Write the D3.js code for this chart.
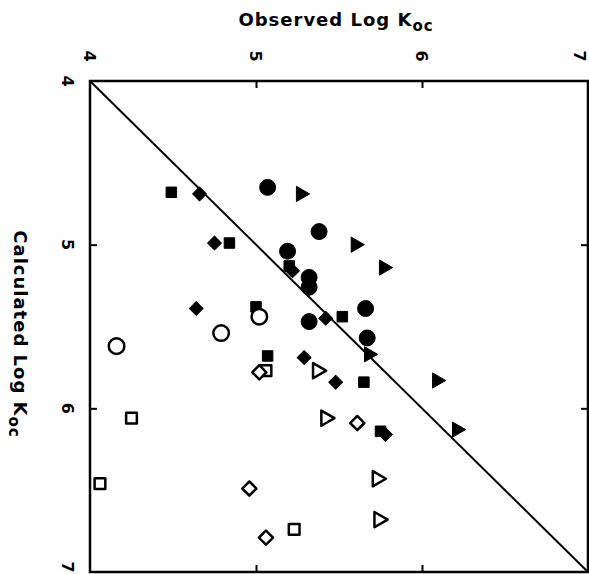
<!DOCTYPE html>
<html>
<head>
<meta charset="utf-8">
<script src="https://cdn.jsdelivr.net/npm/d3@7"></script>
<style>
    body { margin: 0; background: #fff; }
    svg text { font-family: 'DejaVu Sans', 'Liberation Sans', Arial, sans-serif; font-weight: bold; fill: #000; }
</style>
</head>
<body>
<main id="root"><section id="content"></section></main>
<script>
"use strict";

// [observed, calculated]
var filled_circles = [ [5.07,4.65], [5.38,4.92], [5.19,5.04], [5.32,5.20], [5.32,5.26], [5.32,5.47], [5.66,5.39], [5.67,5.57] ];
var filled_triangles = [ [5.27,4.69], [5.60,5.00], [5.77,5.14], [6.09,5.83], [6.21,6.13], [5.68,5.67] ];
var filled_squares = [ [4.49,4.68], [4.84,4.99], [5.20,5.13], [5.00,5.38], [5.52,5.44], [5.07,5.68], [5.65,5.84], [5.75,6.14] ];
var filled_diamonds = [ [4.66,4.69], [4.75,4.99], [4.64,5.39], [5.22,5.16], [5.42,5.45], [5.29,5.69], [5.48,5.84], [5.78,6.16] ];
var open_circles = [ [4.16,5.62], [4.79,5.54], [5.02,5.44] ];
var open_squares = [ [5.06,5.77], [4.25,6.06], [4.06,6.46], [5.23,6.74] ];
var open_diamonds = [ [5.02,5.78], [4.96,6.49], [5.06,6.79], [5.61,6.09] ];
var open_triangles = [ [5.37,5.77], [5.42,6.06], [5.73,6.43], [5.74,6.68] ];

var tick_values = [4, 5, 6, 7];
var x_title = 'Observed Log K';
var y_title = 'Calculated Log K';
var title_sub = 'oc';

var width = 589;
var height = 574;
var margin = { left: 90, top: 81, right: 1, bottom: 2 };

var svg = d3.select('section#content')
    .append('svg')
    .attr('width', width)
    .attr('height', height);

var x = d3.scaleLinear().domain([4, 7]).range([margin.left, width - margin.right]);
var y = d3.scaleLinear().domain([4, 7]).range([margin.top, height - margin.bottom]);

// inner ticks on all four sides
var inner = [5, 6];
svg.append('g')
    .attr('transform', 'translate(0,' + margin.top + ')')
    .call(d3.axisTop(x).tickValues(inner).tickSize(-7).tickFormat(''))
    .call(function(g) { g.select('.domain').remove(); });
svg.append('g')
    .attr('transform', 'translate(0,' + (height - margin.bottom) + ')')
    .call(d3.axisBottom(x).tickValues(inner).tickSize(-7).tickFormat(''))
    .call(function(g) { g.select('.domain').remove(); });
svg.append('g')
    .attr('transform', 'translate(' + margin.left + ',0)')
    .call(d3.axisLeft(y).tickValues(inner).tickSize(-7).tickFormat(''))
    .call(function(g) { g.select('.domain').remove(); });
svg.append('g')
    .attr('transform', 'translate(' + (width - margin.right) + ',0)')
    .call(d3.axisRight(y).tickValues(inner).tickSize(-7).tickFormat(''))
    .call(function(g) { g.select('.domain').remove(); });
svg.selectAll('.tick line').attr('stroke', '#000').attr('stroke-width', 2);

// rotated tick labels (the last ones sit right at the page edge)
svg.append('g').selectAll('text')
    .data(tick_values)
    .enter().append('text')
    .attr('transform', function(d) { return 'translate(' + Math.min(x(d), width - 9) + ',' + (margin.top - 25) + ') rotate(90)'; })
    .attr('text-anchor', 'middle')
    .attr('dy', '0.35em')
    .style('font-size', '16px')
    .text(function(d) { return d; });

svg.append('g').selectAll('text')
    .data(tick_values)
    .enter().append('text')
    .attr('transform', function(d) { return 'translate(' + (margin.left - 22) + ',' + Math.min(y(d), height - 7) + ') rotate(90)'; })
    .attr('text-anchor', 'middle')
    .attr('dy', '0.35em')
    .style('font-size', '16px')
    .text(function(d) { return d; });

// frame
svg.append('rect')
    .attr('x', x(4)).attr('y', y(4))
    .attr('width', x(7) - x(4)).attr('height', y(7) - y(4))
    .attr('fill', 'none')
    .attr('stroke', '#000')
    .attr('stroke-width', 2.5);

// 1:1 line
svg.append('line')
    .attr('x1', x(4)).attr('y1', y(4))
    .attr('x2', x(7)).attr('y2', y(7))
    .attr('stroke', '#000')
    .attr('stroke-width', 2);

// titles
var xt = svg.append('text')
    .attr('x', 336).attr('y', 26)
    .attr('text-anchor', 'middle')
    .style('font-size', '18px')
    .style('letter-spacing', '1px');
xt.append('tspan').text(x_title);
xt.append('tspan').attr('dy', 5).style('font-size', '15px').text(title_sub);

var yt = svg.append('text')
    .attr('transform', 'translate(14,334) rotate(90)')
    .attr('text-anchor', 'middle')
    .style('font-size', '18px')
    .style('letter-spacing', '1px');
yt.append('tspan').text(y_title);
yt.append('tspan').attr('dy', 5).style('font-size', '15px').text(title_sub);

// markers
var series = [
    { data: filled_circles,   type: d3.symbolCircle,   size: 200, rot: 0,  open: false },
    { data: filled_triangles, type: d3.symbolTriangle, size: 100, rot: 90, open: false },
    { data: filled_squares,   type: d3.symbolSquare,   size: 110, rot: 0,  open: false },
    { data: filled_diamonds,  type: d3.symbolSquare,   size: 95,  rot: 45, open: false },
    { data: open_circles,     type: d3.symbolCircle,   size: 190, rot: 0,  open: true },
    { data: open_squares,     type: d3.symbolSquare,   size: 115, rot: 0,  open: true },
    { data: open_diamonds,    type: d3.symbolSquare,   size: 100, rot: 45, open: true },
    { data: open_triangles,   type: d3.symbolTriangle, size: 100, rot: 90, open: true }
];

var marks = svg.append('g').classed('marks', true);
series.forEach(function(s) {
    marks.append('g').selectAll('path')
        .data(s.data)
        .enter().append('path')
        .attr('d', d3.symbol().type(s.type).size(s.size))
        .attr('transform', function(d) { return 'translate(' + x(d[0]) + ',' + y(d[1]) + ') rotate(' + s.rot + ')'; })
        .attr('fill', s.open ? '#fff' : '#000')
        .attr('stroke', '#000')
        .attr('stroke-width', s.open ? 2.5 : 1)
        .attr('stroke-linejoin', 'round');
});
</script>
</body>
</html>
